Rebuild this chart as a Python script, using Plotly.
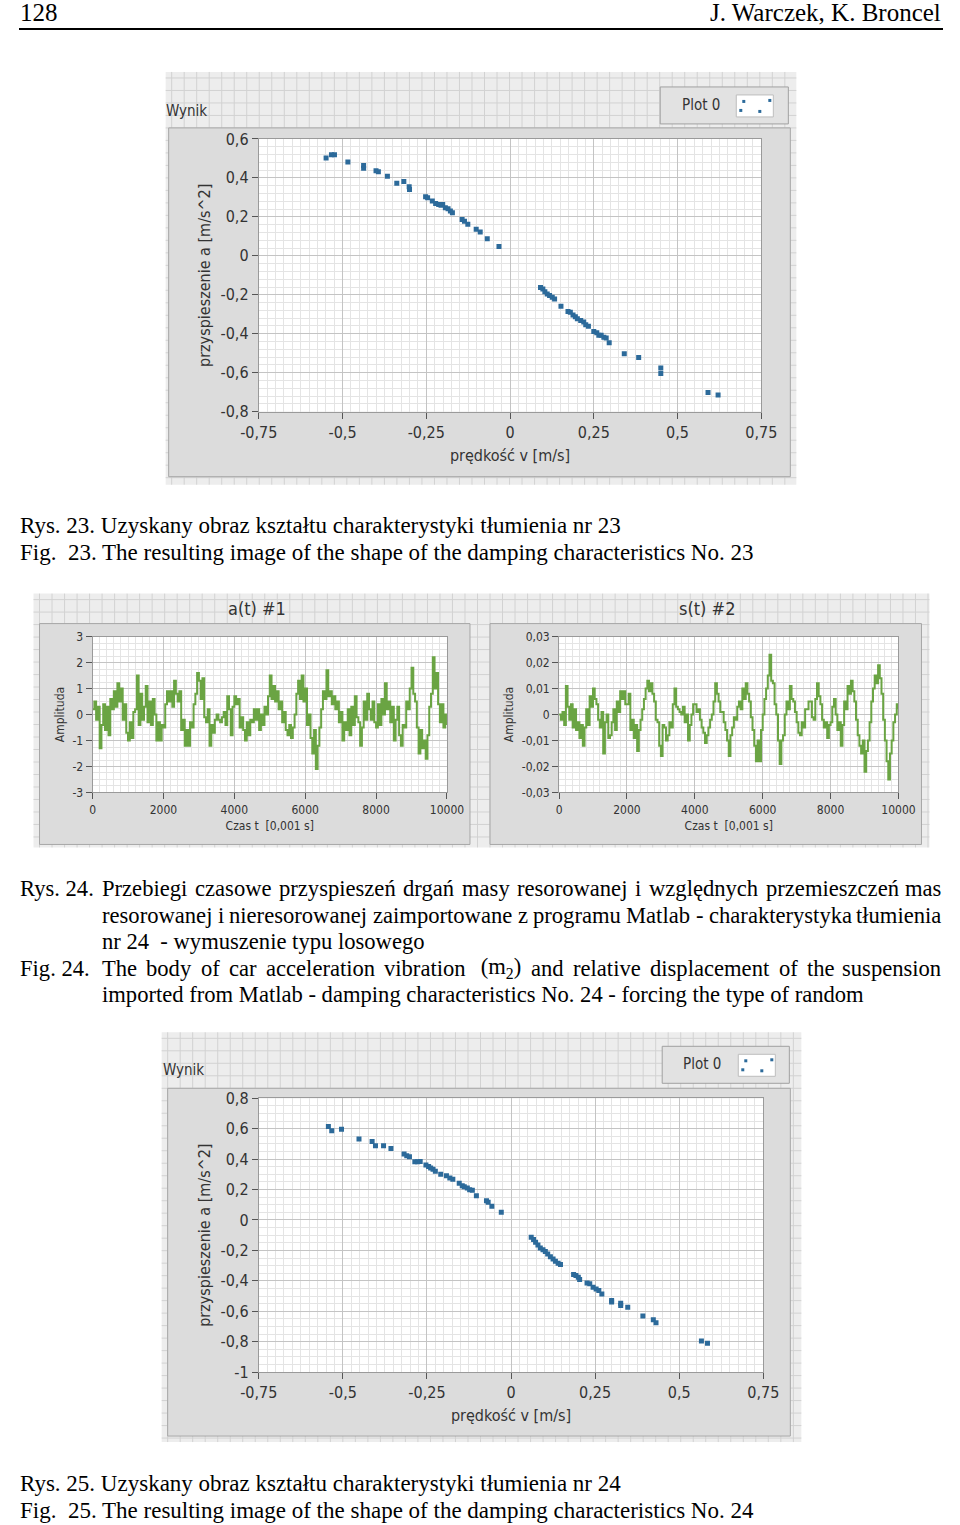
import plotly.graph_objects as go

# ---------------- data ----------------
# Fig. 23 : damping characteristic nr 23 (velocity m/s, acceleration m/s^2)
v23 = [-0.549, -0.533, -0.524, -0.484, -0.437, -0.437, -0.400, -0.393, -0.366, -0.338,
       -0.317, -0.301, -0.300, -0.252, -0.246, -0.232, -0.222, -0.213, -0.206, -0.201,
       -0.193, -0.185, -0.178, -0.172, -0.143, -0.136, -0.126, -0.101, -0.089, -0.068,
       -0.033, 0.091, 0.098, 0.104, 0.111, 0.118, 0.126, 0.133, 0.152, 0.173,
       0.180, 0.188, 0.195, 0.201, 0.211, 0.220, 0.226, 0.234, 0.250, 0.259,
       0.265, 0.272, 0.280, 0.287, 0.296, 0.341, 0.384, 0.450, 0.450, 0.591, 0.621]
a23 = [0.502, 0.519, 0.519, 0.481, 0.463, 0.449, 0.437, 0.432, 0.408, 0.372,
       0.381, 0.354, 0.340, 0.303, 0.298, 0.281, 0.269, 0.264, 0.259, 0.264,
       0.247, 0.241, 0.230, 0.221, 0.187, 0.177, 0.162, 0.136, 0.122, 0.088,
       0.048, -0.162, -0.170, -0.184, -0.196, -0.204, -0.213, -0.221, -0.259, -0.286,
       -0.289, -0.303, -0.313, -0.323, -0.332, -0.340, -0.354, -0.361, -0.388, -0.395,
       -0.408, -0.408, -0.418, -0.422, -0.446, -0.502, -0.522, -0.575, -0.604, -0.701, -0.714]

# Fig. 25 : damping characteristic nr 24
v24 = [-0.543, -0.533, -0.504, -0.452, -0.413, -0.403, -0.379, -0.357, -0.318, -0.310,
       -0.302, -0.286, -0.278, -0.270, -0.253, -0.245, -0.239, -0.232, -0.225, -0.209,
       -0.192, -0.182, -0.173, -0.154, -0.145, -0.139, -0.130, -0.123, -0.115, -0.103,
       -0.073, -0.068, -0.057, -0.029, 0.060, 0.067, 0.073, 0.080, 0.087, 0.095,
       0.102, 0.109, 0.117, 0.125, 0.132, 0.140, 0.147, 0.186, 0.193, 0.200,
       0.204, 0.226, 0.234, 0.244, 0.253, 0.261, 0.270, 0.299, 0.299, 0.326,
       0.326, 0.347, 0.392, 0.423, 0.431, 0.566, 0.584]
a24 = [0.615, 0.586, 0.597, 0.532, 0.516, 0.488, 0.488, 0.470, 0.433, 0.422,
       0.416, 0.383, 0.383, 0.385, 0.361, 0.352, 0.341, 0.333, 0.320, 0.300,
       0.291, 0.276, 0.267, 0.241, 0.225, 0.219, 0.210, 0.199, 0.195, 0.160,
       0.127, 0.116, 0.090, 0.050, -0.114, -0.129, -0.147, -0.164, -0.184, -0.195,
       -0.208, -0.223, -0.241, -0.256, -0.271, -0.285, -0.293, -0.359, -0.365, -0.376,
       -0.392, -0.414, -0.420, -0.442, -0.453, -0.464, -0.486, -0.530, -0.540, -0.547,
       -0.562, -0.573, -0.632, -0.656, -0.676, -0.796, -0.810]

# Fig. 24 : time histories, sample index [0,001 s], one value every 50 samples
t_samples = list(range(0, 10001, 50))
acc_t = [0.2, 0.5, -0.2, 0.3, -1.3, -0.4, 0.4, -0.6, 0.3, -0.8,
         0.6, 0.2, 0.9, 0.3, 1.2, 0.5, 1.0, -0.2, 0.4, -0.7,
         -1.0, -0.3, -0.9, 0.1, 0.2, 1.5, -0.4, 0.8, -0.2, 0.3,
         1.1, -0.3, 0.5, -0.4, 0.6, 0.0, -1.0, -0.3, -1.0, -0.4,
         -0.5, 0.4, 0.9, 0.5, 0.9, 0.3, 1.3, 0.8, 0.5, 0.9,
         -0.6, -0.2, -1.2, -0.6, -1.2, -0.3, -0.5, 0.4, 0.8, 1.6,
         1.3, 0.6, 1.4, -0.1, -0.3, 0.2, -1.2, -0.4, -0.7, -0.2,
         0.0, -0.2, -0.3, -0.1, 0.1, -0.4, 0.7, 0.2, -0.8, 0.3,
         0.7, 0.4, 0.6, -0.5, -0.1, -0.6, -1.0, -0.3, -0.8, -0.2,
         -0.3, 0.2, -0.2, 0.2, -0.6, 0.0, -0.4, 0.3, 0.0, 0.7,
         1.5, 0.6, 1.1, 0.5, 0.9, 0.2, 0.5, -0.3, 0.1, -0.6,
         -0.8, -0.4, -0.9, -0.5, 0.0, 0.8, 1.3, 0.6, 1.5, 0.5,
         1.0, -0.4, 0.0, -0.9, -1.5, -0.6, -2.1, -1.2, -0.5, 0.2,
         0.9, 0.6, 1.7, 0.7, 0.9, 0.4, 0.7, 0.2, 0.5, -0.3,
         0.1, -1.0, -0.3, -0.6, 0.2, -0.8, 0.3, -0.4, 0.7, -0.1,
         -0.3, -1.2, -0.5, 0.5, -0.2, 0.8, 0.2, -0.2, 0.5, -0.3,
         -0.5, 0.4, -0.4, 0.6, 0.0, 1.2, 0.2, 0.5, -0.3, 0.3,
         -1.0, -0.2, 0.3, -0.8, -1.2, -0.4, -0.5, 0.5, 0.2, 1.0,
         1.8, 0.8, 0.5, -0.5, -1.5, -0.6, -1.3, -1.0, -1.7, -0.8,
         0.3, 0.8, 2.2, 1.0, 1.6, 0.4, -0.3, 0.4, -0.5, 0.0,
         -0.4]
disp_t = [0.0, -0.002, 0.001, -0.004, 0.011, 0.003, -0.002, 0.004, -0.005, 0.002,
          -0.006, -0.003, -0.009, -0.004, -0.012, -0.005, 0.002, -0.004, 0.007, 0.003,
          0.010, 0.006, 0.004, -0.002, -0.005, 0.001, -0.015, -0.003, 0.0, -0.009,
          -0.008, -0.003, 0.002, -0.006, 0.005, 0.001, 0.009, 0.006, 0.009, 0.004,
          0.004, 0.008, -0.006, -0.002, -0.009, -0.004, -0.014, -0.006, -0.002, 0.002,
          0.006, 0.010, 0.013, 0.009, 0.012, 0.008, 0.005, -0.002, -0.003, -0.012,
          -0.016, -0.004, -0.005, -0.010, -0.008, -0.003, -0.005, 0.004, 0.010, 0.003,
          0.002, 0.001, 0.0, 0.003, -0.003, 0.0, -0.010, -0.004, 0.0, 0.004,
          0.004, 0.001, 0.002, -0.002, -0.005, -0.007, -0.011, -0.008, -0.005, -0.002,
          0.0, 0.005, 0.012, 0.008, 0.005, 0.001, 0.001, -0.003, -0.006, -0.010,
          -0.016, -0.008, -0.005, -0.001, -0.002, 0.003, 0.005, 0.002, 0.010, 0.006,
          0.012, 0.008, 0.005, -0.001, -0.006, -0.012, -0.018, -0.010, -0.018, -0.006,
          0.0, 0.006, 0.010, 0.015, 0.023, 0.013, 0.012, 0.004, 0.0, -0.010,
          -0.019, -0.010, -0.008, 0.0, 0.005, 0.002, 0.011, 0.006, 0.005, 0.001,
          -0.003, -0.007, -0.008, -0.003, -0.005, 0.002, 0.002, 0.005, 0.005, -0.001,
          -0.002, 0.006, 0.012, 0.007, 0.004, -0.002, -0.005, -0.003, -0.009, -0.004,
          -0.003, 0.003, 0.006, 0.0, -0.006, -0.003, -0.012, -0.004, 0.005, 0.002,
          0.011, 0.008, 0.013, 0.009, 0.005, -0.002, -0.008, -0.012, -0.015, -0.010,
          -0.022, -0.014, -0.010, -0.003, 0.005, 0.010, 0.015, 0.012, 0.019, 0.014,
          0.008, -0.002, -0.010, -0.018, -0.025, -0.015, -0.010, -0.003, 0.0, 0.004,
          0.002]

# tick labels
v_tickvals = [-0.75, -0.5, -0.25, 0, 0.25, 0.5, 0.75]
v_ticktext = ['-0,75', '-0,5', '-0,25', '0', '0,25', '0,5', '0,75']
a23_tickvals = [0.6, 0.4, 0.2, 0, -0.2, -0.4, -0.6, -0.8]
a23_ticktext = ['0,6', '0,4', '0,2', '0', '-0,2', '-0,4', '-0,6', '-0,8']
a24_tickvals = [0.8, 0.6, 0.4, 0.2, 0, -0.2, -0.4, -0.6, -0.8, -1]
a24_ticktext = ['0,8', '0,6', '0,4', '0,2', '0', '-0,2', '-0,4', '-0,6', '-0,8', '-1']
t_tickvals = [0, 2000, 4000, 6000, 8000, 10000]
t_ticktext = ['0', '2000', '4000', '6000', '8000', '10000']
acc_tickvals = [3, 2, 1, 0, -1, -2, -3]
acc_ticktext = ['3', '2', '1', '0', '-1', '-2', '-3']
disp_tickvals = [0.03, 0.02, 0.01, 0, -0.01, -0.02, -0.03]
disp_ticktext = ['0,03', '0,02', '0,01', '0', '-0,01', '-0,02', '-0,03']

# ---------------- styling / layout helpers ----------------
W, H = 960, 1525
SERIF = "Liberation Serif, Times New Roman, serif"
SANS = "Liberation Sans Narrow, DejaVu Sans Condensed, Roboto Condensed, Roboto, sans-serif"
BLUE = "#2C6A9A"
GREEN = "#6AA443"
TXT = "#333333"
CAP = 23      # single-line captions
PAR = 22.6    # multi-line justified caption (Rys. 24 / Fig. 24)
INDENT = 100

# the viewer shows the paper inside this pixel box of the picture
OX, OY, PW, PH = 18.5, 9.0, 923.0, 1507.0


def px(x):
    return min(1.0, max(0.0, (x - OX) / PW))


def py(y):
    return min(1.0, max(0.0, 1 - (y - OY) / PH))


fig = go.Figure()

fig.add_trace(go.Scatter(x=v23, y=a23, mode='markers', xaxis='x', yaxis='y',
                         marker=dict(symbol='square', size=5, color=BLUE, line=dict(width=0)),
                         showlegend=False))
fig.add_trace(go.Scatter(x=t_samples, y=acc_t, mode='lines', xaxis='x2', yaxis='y2',
                         line=dict(color=GREEN, width=2, shape='hv'), showlegend=False))
fig.add_trace(go.Scatter(x=t_samples, y=disp_t, mode='lines', xaxis='x3', yaxis='y3',
                         line=dict(color=GREEN, width=2, shape='hv'), showlegend=False))
fig.add_trace(go.Scatter(x=v24, y=a24, mode='markers', xaxis='x4', yaxis='y4',
                         marker=dict(symbol='square', size=5, color=BLUE, line=dict(width=0)),
                         showlegend=False))


def axis(domain, rng, tickvals, ticktext, minor_dtick, minor_tick0, fsize, title, tfsize, standoff):
    return dict(
        domain=domain, range=rng, tickmode='array', tickvals=tickvals, ticktext=ticktext,
        showgrid=True, gridcolor='#C4C4C4', gridwidth=1, zeroline=False,
        showline=True, linecolor='#9A9A9A', linewidth=1, mirror=True,
        ticks='outside', ticklen=6, tickcolor='#555555', tickwidth=1,
        tickfont=dict(family=SANS, size=fsize, color=TXT),
        minor=dict(tickmode='linear', tick0=minor_tick0, dtick=minor_dtick,
                   showgrid=True, gridcolor='#E4E4E4', gridwidth=1, ticks=''),
        title=dict(text=title, font=dict(family=SANS, size=tfsize, color=TXT), standoff=standoff),
        fixedrange=True,
    )


# plot-area pixel boxes (x0, y0, x1, y1)
P1 = (258, 139, 760, 412)
P2 = (92, 637, 446, 793)
P3 = (558, 637, 897, 793)
P4 = (258, 1099, 762, 1373)


def dom(p):
    return [px(p[0]), px(p[2])], [py(p[3]), py(p[1])]


d1x, d1y = dom(P1)
d2x, d2y = dom(P2)
d3x, d3y = dom(P3)
d4x, d4y = dom(P4)

layout = dict(
    width=W, height=H, autosize=False, margin=dict(l=0, r=0, t=0, b=0, pad=0),
    paper_bgcolor='white', plot_bgcolor='white', showlegend=False,
    xaxis=axis(d1x, [-0.75, 0.75], v_tickvals, v_ticktext, 0.025, -0.75, 16, 'prędkość v [m/s]', 16, 8),
    yaxis=axis(d1y, [-0.8, 0.6], a23_tickvals, a23_ticktext, 0.04, -0.8, 16, 'przyspieszenie a [m/s^2]', 16, 5),
    xaxis2=axis(d2x, [0, 10000], t_tickvals, t_ticktext, 200, 0, 12, 'Czas t  [0,001 s]', 12, 5),
    yaxis2=axis(d2y, [-3, 3], acc_tickvals, acc_ticktext, 0.25, -3, 12, 'Amplituda', 12, 5),
    xaxis3=axis(d3x, [0, 10000], t_tickvals, t_ticktext, 200, 0, 12, 'Czas t  [0,001 s]', 12, 5),
    yaxis3=axis(d3y, [-0.03, 0.03], disp_tickvals, disp_ticktext, 0.0025, -0.03, 12, 'Amplituda', 12, 5),
    xaxis4=axis(d4x, [-0.75, 0.75], v_tickvals, v_ticktext, 0.025, -0.75, 16, 'prędkość v [m/s]', 16, 8),
    yaxis4=axis(d4y, [-1.0, 0.8], a24_tickvals, a24_ticktext, 0.05, -1.0, 16, 'przyspieszenie a [m/s^2]', 16, 5),
)
for k in ['xaxis', 'xaxis2', 'xaxis3', 'xaxis4']:
    layout[k]['anchor'] = 'y' + k[5:]
for k in ['yaxis', 'yaxis2', 'yaxis3', 'yaxis4']:
    layout[k]['anchor'] = 'x' + k[5:]
fig.update_layout(**layout)

shapes = []


def rect(x0, y0, x1, y1, fill, line='rgba(0,0,0,0)', lw=0):
    shapes.append(dict(type='rect', xref='paper', yref='paper', layer='below',
                       x0=px(x0), x1=px(x1), y0=py(y1), y1=py(y0),
                       fillcolor=fill, line=dict(color=line, width=lw)))


def grid_path(x0, y0, x1, y1, step):
    parts = []
    x = x0 + 6
    while x < x1:
        parts.append(f"M{px(x):.5f},{py(y0):.5f}L{px(x):.5f},{py(y1):.5f}")
        x += step
    y = y0 + 6
    while y < y1:
        parts.append(f"M{px(x0):.5f},{py(y):.5f}L{px(x1):.5f},{py(y):.5f}")
        y += step
    shapes.append(dict(type='path', xref='paper', yref='paper', layer='below',
                       path=''.join(parts), line=dict(color='#D2D2D2', width=1)))


# --- LabVIEW style frames ---
rect(165, 72, 795, 485, '#EDEDED')
grid_path(165, 72, 795, 485, 12.5)
rect(168, 128, 789, 477, '#DCDCDC', '#A6A6A6', 1)
rect(P1[0], P1[1], P1[2], P1[3], 'white')
rect(659, 87, 787, 124, '#E2E2E2', '#A0A0A0', 1)
rect(735, 95, 772, 117, 'white', '#BDBDBD', 1)

rect(33, 594, 928, 848, '#EDEDED')
grid_path(33, 594, 928, 848, 12.5)
rect(39, 624, 469, 845, '#DCDCDC', '#A6A6A6', 1)
rect(489, 624, 920, 845, '#DCDCDC', '#A6A6A6', 1)
rect(P2[0], P2[1], P2[2], P2[3], 'white')
rect(P3[0], P3[1], P3[2], P3[3], 'white')

rect(161, 1033, 800, 1443, '#EDEDED')
grid_path(161, 1033, 800, 1443, 12.5)
rect(167, 1089, 789, 1437, '#DCDCDC', '#A6A6A6', 1)
rect(P4[0], P4[1], P4[2], P4[3], 'white')
rect(661, 1047, 788, 1084, '#E2E2E2', '#A0A0A0', 1)
rect(737, 1055, 774, 1077, 'white', '#BDBDBD', 1)

# legend icon dots (decoration of the "Plot 0" legend)
for (ox, oy) in [(735, 95), (737, 1055)]:
    for (dx, dy) in [(6, 5), (32, 4), (3, 14), (22, 15)]:
        shapes.append(dict(type='rect', xref='paper', yref='paper', layer='above',
                           x0=px(ox + dx), x1=px(ox + dx + 3), y0=py(oy + dy + 3), y1=py(oy + dy),
                           fillcolor=BLUE, line=dict(width=0)))

# header rule
shapes.append(dict(type='line', xref='paper', yref='paper', x0=0, x1=1, y0=py(29), y1=py(29),
                   line=dict(color='black', width=2)))
fig.update_layout(shapes=shapes)

ann = []


def text(x, y, s, size, family=SERIF, xanchor='left', color='black', yanchor='middle', textangle=0):
    ann.append(dict(xref='paper', yref='paper', x=px(x), y=py(y), text=s, showarrow=False,
                    xanchor=xanchor, yanchor=yanchor, textangle=textangle, borderpad=0,
                    font=dict(family=family, size=size, color=color)))


# Times-compatible advance widths (1/1000 em) used to justify caption lines
TW = {' ': 250, '.': 250, ',': 250, '-': 333, '(': 333, ')': 333,
      'a': 444, 'b': 500, 'c': 444, 'd': 500, 'e': 444, 'f': 333, 'g': 500, 'h': 500, 'i': 278,
      'j': 278, 'k': 500, 'l': 278, 'm': 778, 'n': 500, 'o': 500, 'p': 500, 'q': 500, 'r': 333,
      's': 389, 't': 278, 'u': 500, 'v': 500, 'w': 722, 'x': 500, 'y': 500, 'z': 444,
      'ń': 500, 'ę': 444, 'ł': 278, 'ś': 389, 'ć': 444, 'ż': 444, 'ą': 444, 'ó': 500,
      'P': 556, 'T': 611, 'M': 889, 'R': 667, 'F': 556, '2': 350}

NB = '\u00a0'


def tw(word, size):
    w = 0
    for ch in word:
        w += TW.get(ch, 500)
    return w * size / 1000.0


def justified(x0, x1, y, words, size):
    ws = [tw(w.replace('<sub>2</sub>', '2').replace(NB, ' '), size) for w in words]
    gap = max(3.0, (x1 - x0 - sum(ws)) / (len(words) - 1))
    x = x0
    for i, w in enumerate(words):
        if i == len(words) - 1:
            text(x1, y, w, size, xanchor='right')
        else:
            text(x, y, w, size)
        x += ws[i] + gap


RIGHT = OX + PW - 1
text(4, 13, '128', 25)
text(RIGHT, 13, 'J. Warczek, K. Broncel', 25, xanchor='right')

text(4, 526, 'Rys. 23. Uzyskany obraz kształtu charakterystyki tłumienia nr 23', CAP)
text(4, 553, 'Fig.' + NB + ' 23. The resulting image of the shape of the damping characteristics No. 23', CAP)

text(4, 889, 'Rys. 24.', PAR)
justified(INDENT, RIGHT, 889, 'Przebiegi czasowe przyspieszeń drgań masy resorowanej i względnych przemieszczeń mas'.split(), PAR)
justified(INDENT, RIGHT, 916, 'resorowanej i nieresorowanej zaimportowane z programu Matlab - charakterystyka tłumienia'.split(), PAR)
text(INDENT, 942, 'nr 24 ' + NB + '- wymuszenie typu losowego', PAR)
text(4, 969, 'Fig. 24.', PAR)
justified(INDENT, RIGHT, 969, ['The', 'body', 'of', 'car', 'acceleration', 'vibration', NB + '(m<sub>2</sub>)', 'and',
                               'relative', 'displacement', 'of', 'the', 'suspension'], PAR)
text(INDENT, 995, 'imported from Matlab - damping characteristics No. 24 - forcing the type of random', PAR)

text(4, 1484, 'Rys. 25. Uzyskany obraz kształtu charakterystyki tłumienia nr 24', CAP)
text(4, 1511, 'Fig.' + NB + ' 25. The resulting image of the shape of the damping characteristics No. 24', CAP)

# LabVIEW labels
text(164, 111, 'Wynik', 15, family=SANS, color=TXT)
text(700, 105, 'Plot 0', 15, family=SANS, color=TXT, xanchor='center')
text(161, 1071, 'Wynik', 15, family=SANS, color=TXT)
text(701, 1065, 'Plot 0', 15, family=SANS, color=TXT, xanchor='center')
text(256, 609, 'a(t) #1', 18, family=SANS, color=TXT, xanchor='center')
text(706, 609, 's(t) #2', 18, family=SANS, color=TXT, xanchor='center')

fig.update_layout(annotations=ann)

fig.write_html("out.html")
